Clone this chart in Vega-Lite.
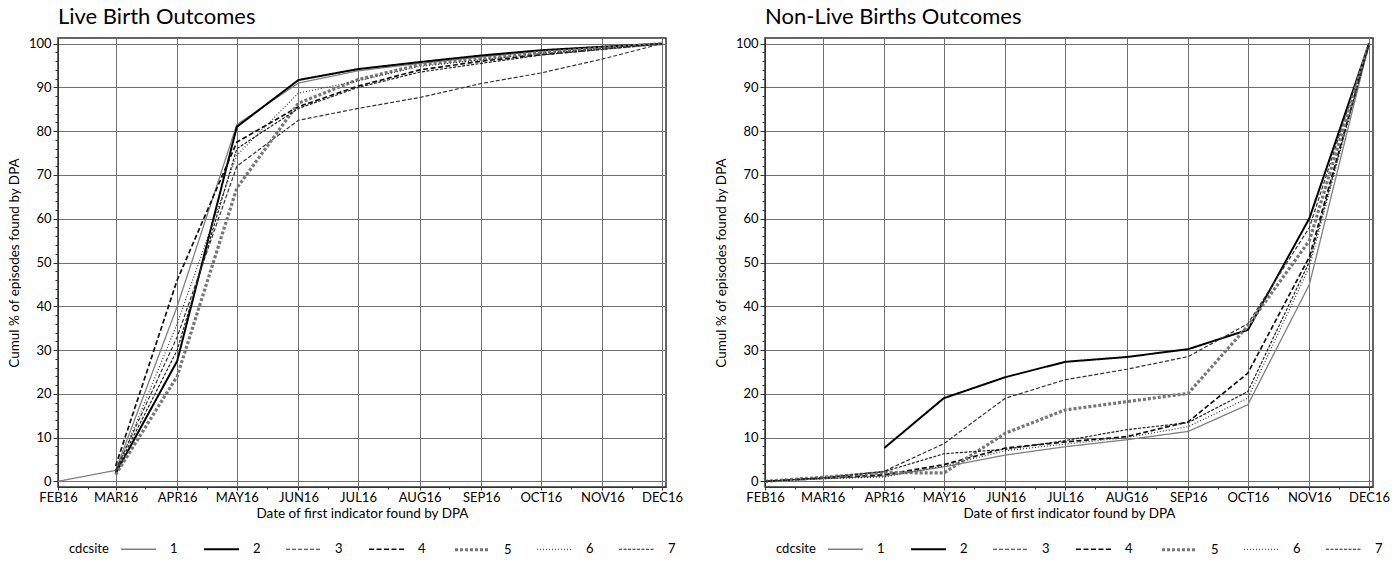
{
  "$schema": "https://vega.github.io/schema/vega-lite/v6.json",
  "background": "white",
  "padding": {"left": 6, "top": 5, "right": 5, "bottom": 0},
  "bounds": "flush",
  "spacing": 99,
  "datasets": {
    "live": [
      {"s":"1","d":"2016-02-01T00:00:00","v":0},{"s":"1","d":"2016-03-01T00:00:00","v":2.5},{"s":"1","d":"2016-04-01T00:00:00","v":40},{"s":"1","d":"2016-05-01T00:00:00","v":81.5},{"s":"1","d":"2016-06-01T00:00:00","v":91},{"s":"1","d":"2016-07-01T00:00:00","v":93.8},{"s":"1","d":"2016-08-01T00:00:00","v":95.5},{"s":"1","d":"2016-09-01T00:00:00","v":97},{"s":"1","d":"2016-10-01T00:00:00","v":98.3},{"s":"1","d":"2016-11-01T00:00:00","v":99.2},{"s":"1","d":"2016-12-01T00:00:00","v":100},
      {"s":"2","d":"2016-03-01T00:00:00","v":1.8},{"s":"2","d":"2016-04-01T00:00:00","v":27.5},{"s":"2","d":"2016-05-01T00:00:00","v":81},{"s":"2","d":"2016-06-01T00:00:00","v":91.7},{"s":"2","d":"2016-07-01T00:00:00","v":94.2},{"s":"2","d":"2016-08-01T00:00:00","v":95.8},{"s":"2","d":"2016-09-01T00:00:00","v":97.3},{"s":"2","d":"2016-10-01T00:00:00","v":98.5},{"s":"2","d":"2016-11-01T00:00:00","v":99.3},{"s":"2","d":"2016-12-01T00:00:00","v":100},
      {"s":"3","d":"2016-03-01T00:00:00","v":2.5},{"s":"3","d":"2016-04-01T00:00:00","v":33},{"s":"3","d":"2016-05-01T00:00:00","v":72},{"s":"3","d":"2016-06-01T00:00:00","v":82.5},{"s":"3","d":"2016-07-01T00:00:00","v":85.2},{"s":"3","d":"2016-08-01T00:00:00","v":87.7},{"s":"3","d":"2016-09-01T00:00:00","v":90.9},{"s":"3","d":"2016-10-01T00:00:00","v":93.3},{"s":"3","d":"2016-11-01T00:00:00","v":96.5},{"s":"3","d":"2016-12-01T00:00:00","v":100},
      {"s":"4","d":"2016-03-01T00:00:00","v":3.5},{"s":"4","d":"2016-04-01T00:00:00","v":46},{"s":"4","d":"2016-05-01T00:00:00","v":77.5},{"s":"4","d":"2016-06-01T00:00:00","v":85.6},{"s":"4","d":"2016-07-01T00:00:00","v":90.3},{"s":"4","d":"2016-08-01T00:00:00","v":94},{"s":"4","d":"2016-09-01T00:00:00","v":96},{"s":"4","d":"2016-10-01T00:00:00","v":97.5},{"s":"4","d":"2016-11-01T00:00:00","v":98.8},{"s":"4","d":"2016-12-01T00:00:00","v":100},
      {"s":"5","d":"2016-03-01T00:00:00","v":1.5},{"s":"5","d":"2016-04-01T00:00:00","v":24},{"s":"5","d":"2016-05-01T00:00:00","v":67},{"s":"5","d":"2016-06-01T00:00:00","v":86.4},{"s":"5","d":"2016-07-01T00:00:00","v":91.8},{"s":"5","d":"2016-08-01T00:00:00","v":95.2},{"s":"5","d":"2016-09-01T00:00:00","v":96.6},{"s":"5","d":"2016-10-01T00:00:00","v":98},{"s":"5","d":"2016-11-01T00:00:00","v":99},{"s":"5","d":"2016-12-01T00:00:00","v":100},
      {"s":"6","d":"2016-03-01T00:00:00","v":2},{"s":"6","d":"2016-04-01T00:00:00","v":36},{"s":"6","d":"2016-05-01T00:00:00","v":74.5},{"s":"6","d":"2016-06-01T00:00:00","v":88.7},{"s":"6","d":"2016-07-01T00:00:00","v":91.5},{"s":"6","d":"2016-08-01T00:00:00","v":94.8},{"s":"6","d":"2016-09-01T00:00:00","v":96.3},{"s":"6","d":"2016-10-01T00:00:00","v":97.8},{"s":"6","d":"2016-11-01T00:00:00","v":98.9},{"s":"6","d":"2016-12-01T00:00:00","v":100},
      {"s":"7","d":"2016-03-01T00:00:00","v":2.2},{"s":"7","d":"2016-04-01T00:00:00","v":30},{"s":"7","d":"2016-05-01T00:00:00","v":76},{"s":"7","d":"2016-06-01T00:00:00","v":85.2},{"s":"7","d":"2016-07-01T00:00:00","v":90},{"s":"7","d":"2016-08-01T00:00:00","v":93.5},{"s":"7","d":"2016-09-01T00:00:00","v":95.5},{"s":"7","d":"2016-10-01T00:00:00","v":97.4},{"s":"7","d":"2016-11-01T00:00:00","v":98.7},{"s":"7","d":"2016-12-01T00:00:00","v":100}
    ],
    "nonlive": [
      {"s":"1","d":"2016-02-01T00:00:00","v":0},{"s":"1","d":"2016-03-01T00:00:00","v":0.6},{"s":"1","d":"2016-04-01T00:00:00","v":1.2},{"s":"1","d":"2016-05-01T00:00:00","v":3.3},{"s":"1","d":"2016-06-01T00:00:00","v":6},{"s":"1","d":"2016-07-01T00:00:00","v":7.9},{"s":"1","d":"2016-08-01T00:00:00","v":9.5},{"s":"1","d":"2016-09-01T00:00:00","v":11.4},{"s":"1","d":"2016-10-01T00:00:00","v":17.5},{"s":"1","d":"2016-11-01T00:00:00","v":45},{"s":"1","d":"2016-12-01T00:00:00","v":100},
      {"s":"2","d":"2016-04-01T00:00:00","v":7.6},{"s":"2","d":"2016-05-01T00:00:00","v":19},{"s":"2","d":"2016-06-01T00:00:00","v":23.8},{"s":"2","d":"2016-07-01T00:00:00","v":27.3},{"s":"2","d":"2016-08-01T00:00:00","v":28.4},{"s":"2","d":"2016-09-01T00:00:00","v":30.2},{"s":"2","d":"2016-10-01T00:00:00","v":34.6},{"s":"2","d":"2016-11-01T00:00:00","v":60.1},{"s":"2","d":"2016-12-01T00:00:00","v":100},
      {"s":"3","d":"2016-02-01T00:00:00","v":0},{"s":"3","d":"2016-03-01T00:00:00","v":0.8},{"s":"3","d":"2016-04-01T00:00:00","v":2.3},{"s":"3","d":"2016-05-01T00:00:00","v":8.6},{"s":"3","d":"2016-06-01T00:00:00","v":19},{"s":"3","d":"2016-07-01T00:00:00","v":23.2},{"s":"3","d":"2016-08-01T00:00:00","v":25.6},{"s":"3","d":"2016-09-01T00:00:00","v":28.5},{"s":"3","d":"2016-10-01T00:00:00","v":36},{"s":"3","d":"2016-11-01T00:00:00","v":58},{"s":"3","d":"2016-12-01T00:00:00","v":100},
      {"s":"4","d":"2016-02-01T00:00:00","v":0},{"s":"4","d":"2016-03-01T00:00:00","v":0.7},{"s":"4","d":"2016-04-01T00:00:00","v":1.5},{"s":"4","d":"2016-05-01T00:00:00","v":3.8},{"s":"4","d":"2016-06-01T00:00:00","v":7.6},{"s":"4","d":"2016-07-01T00:00:00","v":9},{"s":"4","d":"2016-08-01T00:00:00","v":10.2},{"s":"4","d":"2016-09-01T00:00:00","v":13.6},{"s":"4","d":"2016-10-01T00:00:00","v":24.7},{"s":"4","d":"2016-11-01T00:00:00","v":51.3},{"s":"4","d":"2016-12-01T00:00:00","v":100},
      {"s":"5","d":"2016-02-01T00:00:00","v":0},{"s":"5","d":"2016-03-01T00:00:00","v":0.9},{"s":"5","d":"2016-04-01T00:00:00","v":2},{"s":"5","d":"2016-05-01T00:00:00","v":1.9},{"s":"5","d":"2016-06-01T00:00:00","v":11},{"s":"5","d":"2016-07-01T00:00:00","v":16.3},{"s":"5","d":"2016-08-01T00:00:00","v":18.2},{"s":"5","d":"2016-09-01T00:00:00","v":20.1},{"s":"5","d":"2016-10-01T00:00:00","v":35.5},{"s":"5","d":"2016-11-01T00:00:00","v":55},{"s":"5","d":"2016-12-01T00:00:00","v":100},
      {"s":"6","d":"2016-02-01T00:00:00","v":0},{"s":"6","d":"2016-03-01T00:00:00","v":0.6},{"s":"6","d":"2016-04-01T00:00:00","v":1},{"s":"6","d":"2016-05-01T00:00:00","v":3.5},{"s":"6","d":"2016-06-01T00:00:00","v":7},{"s":"6","d":"2016-07-01T00:00:00","v":8.5},{"s":"6","d":"2016-08-01T00:00:00","v":10},{"s":"6","d":"2016-09-01T00:00:00","v":12.5},{"s":"6","d":"2016-10-01T00:00:00","v":19},{"s":"6","d":"2016-11-01T00:00:00","v":49},{"s":"6","d":"2016-12-01T00:00:00","v":100},
      {"s":"7","d":"2016-02-01T00:00:00","v":0},{"s":"7","d":"2016-03-01T00:00:00","v":0.8},{"s":"7","d":"2016-04-01T00:00:00","v":2.2},{"s":"7","d":"2016-05-01T00:00:00","v":6.3},{"s":"7","d":"2016-06-01T00:00:00","v":7.3},{"s":"7","d":"2016-07-01T00:00:00","v":9.3},{"s":"7","d":"2016-08-01T00:00:00","v":11.8},{"s":"7","d":"2016-09-01T00:00:00","v":13.4},{"s":"7","d":"2016-10-01T00:00:00","v":20.5},{"s":"7","d":"2016-11-01T00:00:00","v":50.2},{"s":"7","d":"2016-12-01T00:00:00","v":100}
    ]
  },
  "hconcat": [
    {
      "data": {"name": "live"},
      "title": {"text": "Live Birth Outcomes"},
      "width": 608,
      "height": 449,
      "mark": {"type": "line"},
      "encoding": {
        "x": {"field": "d", "type": "temporal", "title": "Date of first indicator found by DPA",
          "scale": {"domain": [{"year":2016,"month":2,"date":1},{"year":2016,"month":12,"date":3}], "nice": false},
          "axis": {"values": [{"year":2016,"month":2,"date":1},{"year":2016,"month":2,"date":16},{"year":2016,"month":3,"date":1},{"year":2016,"month":3,"date":16},{"year":2016,"month":4,"date":1},{"year":2016,"month":4,"date":16},{"year":2016,"month":5,"date":1},{"year":2016,"month":5,"date":16},{"year":2016,"month":6,"date":1},{"year":2016,"month":6,"date":16},{"year":2016,"month":7,"date":1},{"year":2016,"month":7,"date":16},{"year":2016,"month":8,"date":1},{"year":2016,"month":8,"date":16},{"year":2016,"month":9,"date":1},{"year":2016,"month":9,"date":16},{"year":2016,"month":10,"date":1},{"year":2016,"month":10,"date":16},{"year":2016,"month":11,"date":1},{"year":2016,"month":11,"date":16},{"year":2016,"month":12,"date":1}],
            "labelExpr": "date(datum.value) == 1 ? upper(timeFormat(datum.value, '%b%y')) : ''",
            "gridOpacity": {"condition": {"test": "date(datum.value) != 1", "value": 0}, "value": 1},
            "tickSize": {"condition": {"test": "date(datum.value) != 1", "value": 2}, "value": 3}}},
        "y": {"field": "v", "type": "quantitative", "title": "Cumul % of episodes found by DPA",
          "scale": {"domain": [-1.3, 101.3], "nice": false, "zero": false},
          "axis": {"values": [0,2,4,6,8,10,12,14,16,18,20,22,24,26,28,30,32,34,36,38,40,42,44,46,48,50,52,54,56,58,60,62,64,66,68,70,72,74,76,78,80,82,84,86,88,90,92,94,96,98,100],
            "labelExpr": "datum.value % 10 == 0 ? datum.label : ''",
            "gridOpacity": {"condition": {"test": "datum.value % 10 != 0", "value": 0}, "value": 1},
            "tickSize": {"condition": {"test": "datum.value % 10 != 0", "value": 3}, "value": 5}}},
        "color": {"field": "s", "type": "ordinal", "title": "cdcsite",
          "scale": {"domain": ["1","2","3","4","5","6","7"], "range": ["#808080","#000000","#333333","#111111","#767676","#333333","#222222"]}},
        "strokeDash": {"field": "s", "type": "ordinal", "title": "cdcsite",
          "scale": {"domain": ["1","2","3","4","5","6","7"], "range": [[1,0],[1,0],[4,2],[5,2.5],[3,2],[1,2],[3,1.5]]}},
        "strokeWidth": {"field": "s", "type": "ordinal", "title": "cdcsite",
          "scale": {"type": "ordinal", "domain": ["1","2","3","4","5","6","7"], "range": [1.3,2,1.2,1.7,3.2,1.2,1.2]}}
      }
    },
    {
      "data": {"name": "nonlive"},
      "title": {"text": "Non-Live Births Outcomes"},
      "width": 608,
      "height": 449,
      "mark": {"type": "line"},
      "encoding": {
        "x": {"field": "d", "type": "temporal", "title": "Date of first indicator found by DPA",
          "scale": {"domain": [{"year":2016,"month":2,"date":1},{"year":2016,"month":12,"date":3}], "nice": false},
          "axis": {"values": [{"year":2016,"month":2,"date":1},{"year":2016,"month":2,"date":16},{"year":2016,"month":3,"date":1},{"year":2016,"month":3,"date":16},{"year":2016,"month":4,"date":1},{"year":2016,"month":4,"date":16},{"year":2016,"month":5,"date":1},{"year":2016,"month":5,"date":16},{"year":2016,"month":6,"date":1},{"year":2016,"month":6,"date":16},{"year":2016,"month":7,"date":1},{"year":2016,"month":7,"date":16},{"year":2016,"month":8,"date":1},{"year":2016,"month":8,"date":16},{"year":2016,"month":9,"date":1},{"year":2016,"month":9,"date":16},{"year":2016,"month":10,"date":1},{"year":2016,"month":10,"date":16},{"year":2016,"month":11,"date":1},{"year":2016,"month":11,"date":16},{"year":2016,"month":12,"date":1}],
            "labelExpr": "date(datum.value) == 1 ? upper(timeFormat(datum.value, '%b%y')) : ''",
            "gridOpacity": {"condition": {"test": "date(datum.value) != 1", "value": 0}, "value": 1},
            "tickSize": {"condition": {"test": "date(datum.value) != 1", "value": 2}, "value": 3}}},
        "y": {"field": "v", "type": "quantitative", "title": "Cumul % of episodes found by DPA",
          "scale": {"domain": [-1.3, 101.3], "nice": false, "zero": false},
          "axis": {"values": [0,2,4,6,8,10,12,14,16,18,20,22,24,26,28,30,32,34,36,38,40,42,44,46,48,50,52,54,56,58,60,62,64,66,68,70,72,74,76,78,80,82,84,86,88,90,92,94,96,98,100],
            "labelExpr": "datum.value % 10 == 0 ? datum.label : ''",
            "gridOpacity": {"condition": {"test": "datum.value % 10 != 0", "value": 0}, "value": 1},
            "tickSize": {"condition": {"test": "datum.value % 10 != 0", "value": 3}, "value": 5}}},
        "color": {"field": "s", "type": "ordinal", "title": "cdcsite",
          "scale": {"domain": ["1","2","3","4","5","6","7"], "range": ["#808080","#000000","#333333","#111111","#767676","#333333","#222222"]}},
        "strokeDash": {"field": "s", "type": "ordinal", "title": "cdcsite",
          "scale": {"domain": ["1","2","3","4","5","6","7"], "range": [[1,0],[1,0],[4,2],[5,2.5],[3,2],[1,2],[3,1.5]]}},
        "strokeWidth": {"field": "s", "type": "ordinal", "title": "cdcsite",
          "scale": {"type": "ordinal", "domain": ["1","2","3","4","5","6","7"], "range": [1.3,2,1.2,1.7,3.2,1.2,1.2]}}
      }
    }
  ],
  "resolve": {
    "scale": {"color": "independent", "strokeDash": "independent", "strokeWidth": "independent", "x": "independent", "y": "independent"},
    "legend": {"color": "independent", "strokeDash": "independent", "strokeWidth": "independent"}
  },
  "config": {
    "font": "Lato",
    "view": {"stroke": "#333333", "strokeWidth": 1.5},
    "title": {"anchor": "start", "frame": "group", "fontSize": 22, "fontWeight": "normal", "font": "Lato", "color": "#000000", "offset": 8},
    "axis": {"labelFont": "Lato", "labelFontSize": 13, "labelColor": "#000000", "titleFont": "Lato", "titleFontSize": 13.5, "titleFontWeight": "normal", "titleColor": "#000000", "gridColor": "#707070", "gridWidth": 1, "tickColor": "#333333", "domainColor": "#333333", "labelOverlap": false, "labelPadding": 2, "labelFlush": false},
    "axisY": {"titlePadding": 7},
    "axisX": {"titlePadding": 2, "labelPadding": 1},
    "legend": {"orient": "none", "legendX": 11, "legendY": 492, "direction": "horizontal", "titleOrient": "left", "titleAnchor": "middle", "titleBaseline": "top", "titleFont": "Lato", "titleFontSize": 13, "titleFontWeight": "normal", "titleColor": "#000000", "titlePadding": 10, "labelFont": "Lato", "labelFontSize": 13, "labelColor": "#000000", "symbolType": "stroke", "symbolSize": 1225, "labelOffset": 12, "columnPadding": 22, "columns": 7}
  }
}
